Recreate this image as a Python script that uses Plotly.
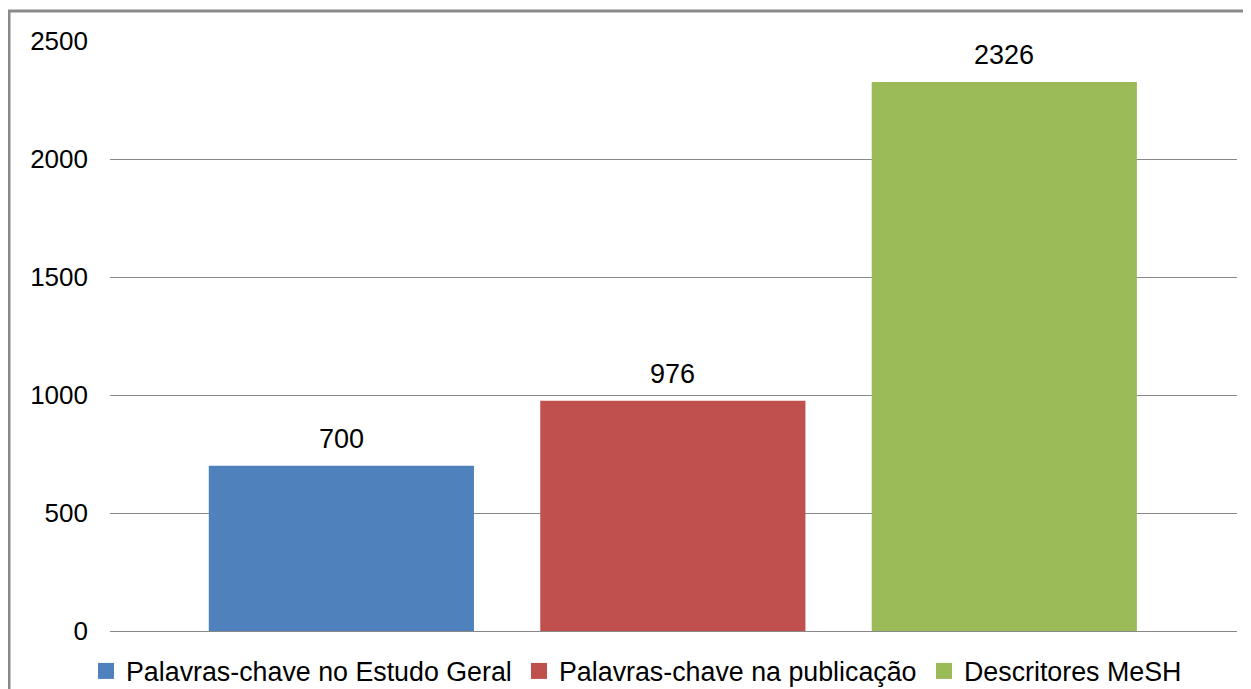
import plotly.graph_objects as go

categories = ["Palavras-chave no Estudo Geral", "Palavras-chave na publicação", "Descritores MeSH"]
values = [700, 976, 2326]
colors = ["#4F81BD", "#C0504D", "#9BBB59"]
y_ticks = [0, 500, 1000, 1500, 2000, 2500]

FONT = "Liberation Sans, Arial, sans-serif"
# The page body adds an 8 px offset, so the figure is drawn 8 px smaller
OFF = 8
W, H = 1251 - OFF, 689 - OFF
legend_text_x = [125 - OFF, 558 - OFF, 963 - OFF]   # where each legend entry's text starts (px)
legend_mid_y = 671 - OFF

fig = go.Figure()
fig.add_trace(go.Bar(
    x=categories, y=values, marker=dict(color=colors, line=dict(width=0)),
    width=0.8, showlegend=False, hoverinfo="x+y",
))
legend_ids = ["legend", "legend2", "legend3"]
for name, col, lid in zip(categories, colors, legend_ids):
    fig.add_trace(go.Scatter(
        x=[None], y=[None], mode="markers", name=name, legend=lid,
        marker=dict(symbol="square", size=16, color=col),
    ))

for c, v in zip(categories, values):
    fig.add_annotation(x=c, y=v, text=str(v), showarrow=False, yanchor="bottom",
                       yshift=10, font=dict(family=FONT, size=27, color="#000000"))

legend_common = dict(orientation="h", xref="container", yref="container",
                     xanchor="left", yanchor="middle", y=1 - legend_mid_y / H,
                     font=dict(family=FONT, size=26.8, color="#000000"),
                     bgcolor="rgba(0,0,0,0)", itemclick=False)

fig.update_layout(
    width=W, height=H,
    margin=dict(l=110 - OFF, r=14, t=41 - OFF, b=58, autoexpand=False),
    paper_bgcolor="white", plot_bgcolor="white",
    font=dict(family=FONT, color="#000000"),
    xaxis=dict(type="category", range=[-0.698, 2.702], showticklabels=False,
               showgrid=False, zeroline=False, showline=False, ticks=""),
    yaxis=dict(range=[0, 2500], tickvals=y_ticks, showgrid=True, gridcolor="#888888",
               gridwidth=1.3, zeroline=True, zerolinecolor="#888888", zerolinewidth=1.3,
               showline=False, ticks="", ticklabelstandoff=21,
               tickfont=dict(family=FONT, size=26, color="#000000")),
    legend=dict(x=(legend_text_x[0] - 39) / W, **legend_common),
    legend2=dict(x=(legend_text_x[1] - 39) / W, **legend_common),
    legend3=dict(x=(legend_text_x[2] - 39) / W, **legend_common),
    shapes=[dict(type="rect", xref="paper", yref="paper",
                 x0=(9 - 110) / 1127, x1=1.2, y0=-0.3, y1=(631 - 11) / 590,
                 line=dict(color="#8A8A8A", width=3), fillcolor="rgba(0,0,0,0)", layer="above")],
)

fig.write_html("out.html")
